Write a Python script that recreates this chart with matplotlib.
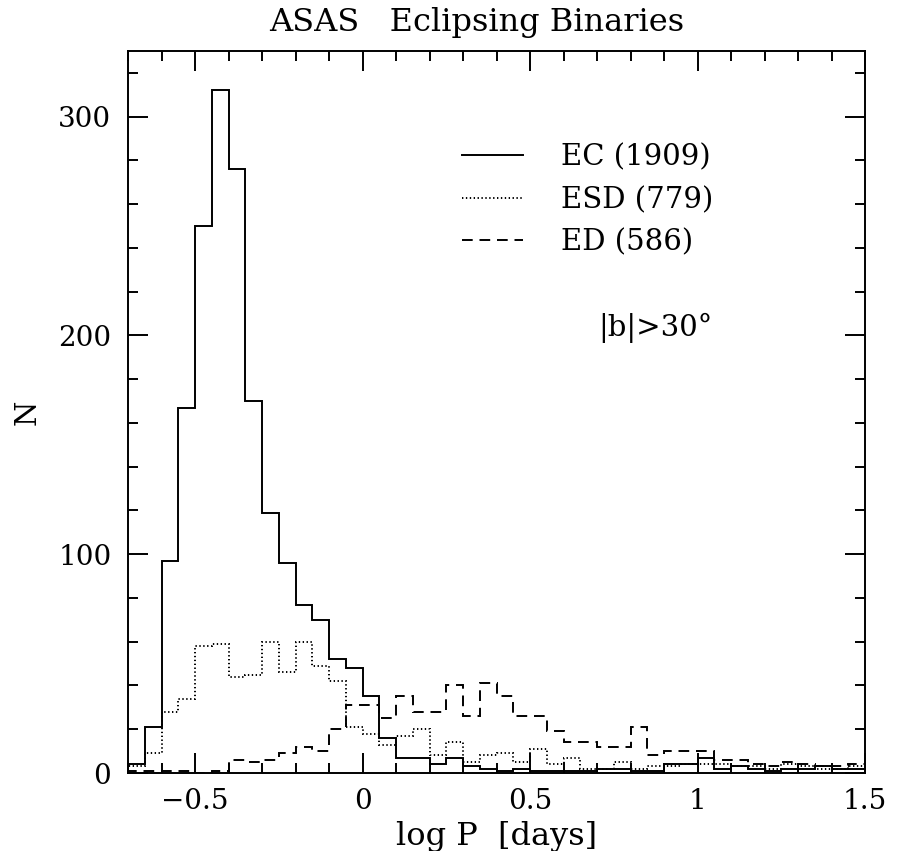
import numpy as np
import matplotlib
matplotlib.use('Agg')
import matplotlib.pyplot as plt
from matplotlib.lines import Line2D
from matplotlib.ticker import MultipleLocator, FixedLocator, FixedFormatter

# ---- data (histogram counts per 0.05 dex bin in log P, from -0.7 to 1.5) ----
bin_start = -0.7
bin_stop = 1.5

ec_counts = [4, 21, 97, 167, 250, 312, 276, 170, 119, 96,
             77, 70, 52, 48, 35, 16, 7, 7, 4, 7,
             3, 2, 1, 2, 1, 1, 1, 1, 2, 2,
             1, 1, 4, 4, 7, 2, 3, 2, 1, 2,
             2, 3, 2, 2]
esd_counts = [3, 9, 28, 34, 58, 59, 44, 45, 60, 46,
              60, 49, 42, 21, 18, 13, 17, 20, 8, 14,
              5, 8, 9, 5, 11, 4, 7, 2, 2, 5,
              2, 3, 3, 4, 4, 4, 3, 3, 2, 4,
              3, 2, 2, 3]
ed_counts = [1, 1, 1, 1, 0, 1, 6, 5, 6, 9,
             12, 10, 20, 31, 31, 25, 35, 28, 28, 40,
             26, 41, 35, 26, 26, 19, 14, 14, 12, 12,
             21, 8, 10, 10, 10, 6, 6, 4, 3, 5,
             4, 3, 3, 4]

series_labels = ['EC (1909)', 'ESD (779)', 'ED (586)']
x_ticks = [-0.5, 0, 0.5, 1, 1.5]
x_tick_labels = ['\u22120.5', '0', '0.5', '1', '1.5']
y_ticks = [0, 100, 200, 300]
y_tick_labels = ['0', '100', '200', '300']

title_text = 'ASAS   Eclipsing Binaries'
x_label = 'log P  [days]'
y_label = 'N'
note_text = '|b|>30\u00b0'

# ---- style ----
plt.rcParams['font.family'] = ['DejaVu Serif']
W, H = 907, 851
fig = plt.figure(figsize=(W / 100, H / 100), dpi=100)
ax = fig.add_axes([128 / W, 1 - 773 / H, 737 / W, 722 / H])

edges = np.linspace(bin_start, bin_stop, len(ec_counts) + 1)
styles = ['-', (0, (0.7, 1.3)), (0, (5.5, 3.5))]
lw = 1.4
for counts, ls in zip([ed_counts, esd_counts, ec_counts], styles[::-1]):
    ax.stairs(counts, edges, color='black', linewidth=lw, linestyle=ls)

ax.set_xlim(bin_start, bin_stop)
ax.set_ylim(0, 330)

ax.xaxis.set_major_locator(FixedLocator(x_ticks))
ax.xaxis.set_major_formatter(FixedFormatter(x_tick_labels))
ax.xaxis.set_minor_locator(MultipleLocator(0.1))
ax.yaxis.set_major_locator(FixedLocator(y_ticks))
ax.yaxis.set_major_formatter(FixedFormatter(y_tick_labels))
ax.yaxis.set_minor_locator(MultipleLocator(20))

ax.tick_params(which='both', direction='in', top=True, right=True,
               width=lw, colors='black')
ax.tick_params(which='major', length=14.4, labelsize=20)
ax.tick_params(which='minor', length=7.2)
ax.tick_params(axis='x', which='major', pad=11)
ax.tick_params(axis='y', which='major', pad=12)
for sp in ax.spines.values():
    sp.set_linewidth(lw)

ax.set_xlabel(x_label, fontsize=23, labelpad=4)
ax.set_ylabel(y_label, fontsize=21, labelpad=12)

fig.text(477 / W, 1 - 22 / H, title_text, ha='center', va='center', fontsize=23)

handles = [Line2D([], [], color='black', linewidth=lw, linestyle=s) for s in styles]
ax.legend(handles, series_labels, loc='upper left', bbox_to_anchor=(0.453, 0.872),
          frameon=False, fontsize=21, handlelength=2.1, handletextpad=1.3,
          labelspacing=0.5, borderpad=0, borderaxespad=0)

ax.text(0.873, 203.5, note_text, ha='center', va='center', fontsize=21)

fig.savefig('out.png', dpi=100)
